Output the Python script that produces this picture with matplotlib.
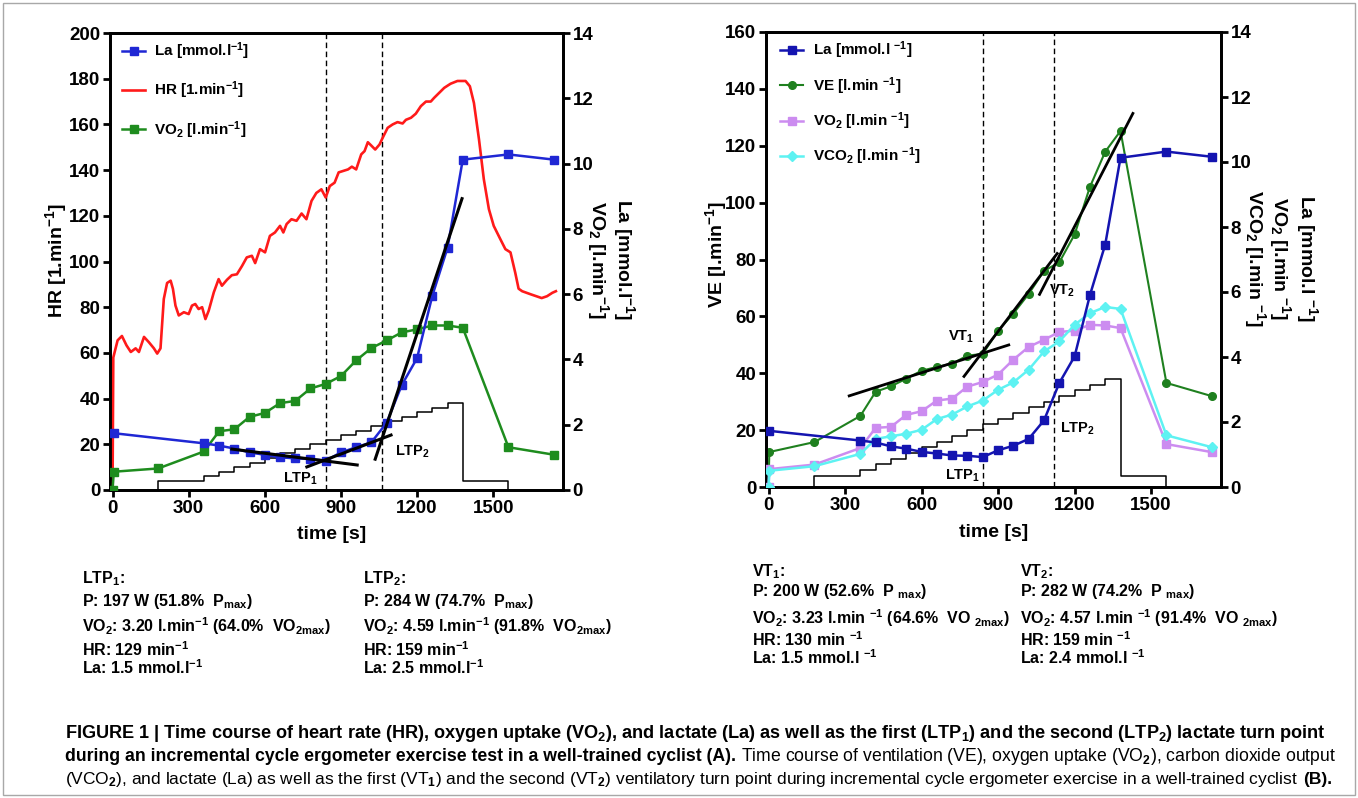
import matplotlib
matplotlib.use('Agg')
import matplotlib.pyplot as plt
from matplotlib import font_manager
from matplotlib.transforms import IdentityTransform
from matplotlib.patches import Rectangle

# ---------------- data ----------------
# heart rate trace (panel A)
hr_t = [0, 3, 20, 37, 55, 72, 91, 104, 124, 143, 163, 176, 189, 202, 215, 229, 238, 248, 261, 281,
        300, 313, 326, 339, 353, 366, 379, 399, 418, 431, 451, 470, 490, 510, 529, 549, 562, 581, 601, 620,
        640, 660, 673, 686, 705, 725, 745, 764, 784, 803, 823, 840, 856, 875, 891, 908, 928, 943, 960, 980,
        993, 1006, 1019, 1035, 1052, 1066, 1084, 1104, 1123, 1143, 1156, 1176, 1195, 1215, 1235, 1254, 1267, 1287, 1307, 1332,
        1359, 1391, 1408, 1424, 1444, 1463, 1483, 1502, 1528, 1548, 1568, 1587, 1600, 1614, 1649, 1691, 1712, 1733, 1747]
hr_v = [0, 58, 65.5, 67.4, 63.3, 60.4, 62, 60.4, 67, 64.7, 62, 59.7, 62, 83.6, 90.6, 91.6, 88, 80.7, 76.4, 77.8,
        77, 80.7, 81.4, 79.2, 80, 74.8, 78.5, 86.5, 92.3, 89.4, 92, 94, 94.4, 98, 101.8, 102.5, 99.3, 105.4, 104, 111.2,
        112.7, 115.6, 112.7, 116.4, 118.5, 117.8, 121, 118.5, 126.5, 130, 131.6, 128, 133, 134.5, 139, 139.6, 140.3, 141.5, 140.3, 146.9,
        148.3, 152.2, 150.8, 149, 151.2, 154.5, 158.5, 160, 161, 160.4, 162, 162.9, 164.7, 168, 170, 170, 171.6, 173.8, 176, 177.8,
        179, 179, 176.7, 169.4, 153.4, 136, 122.9, 115.6, 109.8, 105.4, 104, 95, 88.1, 87, 85.6, 84, 84.8, 86.3, 87]

# lactate (panel A)
la_t = [5, 360, 420, 480, 540, 600, 660, 720, 780, 840, 900, 960, 1020, 1080, 1140, 1200, 1260, 1320, 1380, 1560, 1740]
la_v = [1.74, 1.43, 1.36, 1.27, 1.15, 1.08, 1.00, 0.97, 0.95, 0.90, 1.15, 1.31, 1.46, 2.06, 3.22, 4.04, 5.95, 7.42, 10.12, 10.28, 10.12]

# oxygen uptake (panel A)
vo2_t = [0, 5, 180, 360, 420, 480, 540, 600, 660, 720, 780, 840, 900, 960, 1020, 1080, 1140, 1200, 1260, 1320, 1380, 1560, 1740]
vo2_v = [0, 0.56, 0.66, 1.18, 1.80, 1.86, 2.24, 2.36, 2.66, 2.73, 3.11, 3.25, 3.49, 3.97, 4.35, 4.58, 4.83, 4.92, 5.04, 5.04, 4.97, 1.31, 1.08]

# power protocol (W), drawn as W/10
pw_t = [180, 180, 360, 420, 480, 540, 600, 660, 720, 780, 840, 900, 960, 1020, 1080, 1140, 1200, 1260, 1320, 1380, 1560]
pw_w = [0, 40, 60, 80, 100, 120, 140, 160, 180, 200, 220, 240, 260, 280, 300, 320, 340, 360, 380, 40, 0]

# lactate turn point regression lines (panel A, mmol/l)
ltp_fit1_t = [464, 970]
ltp_fit1_v = [1.26, 0.76]
ltp_fit2_t = [760, 1103]
ltp_fit2_v = [0.69, 1.70]
ltp_fit3_t = [1033, 1379]
ltp_fit3_v = [0.90, 8.97]
ltp_lines_A = [840, 1063]

# panel B
gas_t = [0, 3, 180, 360, 420, 480, 540, 600, 660, 720, 780, 840, 900, 960, 1020, 1080, 1140, 1200, 1260, 1320, 1380, 1560, 1740]
ve_v = [0, 12.3, 15.8, 25.0, 33.5, 35.4, 38.1, 40.9, 42.2, 43.4, 46.2, 46.8, 55.0, 61.0, 67.9, 76.0, 79.0, 88.8, 105.5, 117.9, 125.2, 36.6, 31.9]
vo2b_v = [0, 0.55, 0.69, 1.20, 1.82, 1.85, 2.22, 2.33, 2.66, 2.72, 3.09, 3.23, 3.46, 3.92, 4.31, 4.53, 4.77, 4.81, 4.99, 4.97, 4.89, 1.32, 1.07]
vco2_v = [0, 0.50, 0.64, 1.02, 1.48, 1.56, 1.64, 1.76, 2.09, 2.23, 2.48, 2.66, 2.99, 3.22, 3.61, 4.17, 4.48, 4.99, 5.35, 5.54, 5.48, 1.59, 1.22]
lab_t = [0, 360, 420, 480, 540, 600, 660, 720, 780, 840, 900, 960, 1020, 1080, 1140, 1200, 1260, 1320, 1380, 1560, 1740]
lab_v = [1.73, 1.43, 1.37, 1.25, 1.18, 1.08, 1.03, 0.97, 0.96, 0.92, 1.13, 1.27, 1.48, 2.05, 3.20, 4.02, 5.90, 7.46, 10.13, 10.32, 10.16]

vt_fit1_t = [311, 947]
vt_fit1_v = [31.9, 50.1]
vt_fit2_t = [763, 1135]
vt_fit2_v = [38.5, 82.5]
vt_fit3_t = [1060, 1431]
vt_fit3_v = [67.3, 131.8]
vt_lines_B = [840, 1118]

x_ticks = [0, 300, 600, 900, 1200, 1500]

# ---------------- style ----------------
W, H = 1358, 798
plt.rcParams['font.family'] = ['Liberation Sans', 'DejaVu Sans']
plt.rcParams['font.weight'] = 'bold'
plt.rcParams['mathtext.fontset'] = 'custom'
plt.rcParams['mathtext.rm'] = 'Liberation Sans'
plt.rcParams['mathtext.bf'] = 'Liberation Sans:bold'
plt.rcParams['mathtext.it'] = 'Liberation Sans:italic'
plt.rcParams['mathtext.default'] = 'bf'

C_RED = '#ff1a1a'
C_BLUE_A = '#1f27d4'
C_GREEN_A = '#1e8c1e'
C_BLUE_B = '#1414b0'
C_GREEN_B = '#1f801f'
C_LILAC = '#cc8cf0'
C_CYAN = '#5ef2f2'

fig = plt.figure(figsize=(W / 100, H / 100), dpi=100)
fig.patches.append(Rectangle((3 / W, 3 / H), (W - 6) / W, (H - 6) / H, transform=fig.transFigure,
                             fill=False, ec='#a8a8a8', lw=1.0))

axA = fig.add_axes([110 / W, 1 - 490 / H, 453 / W, 457 / H])
axB = fig.add_axes([766 / W, 1 - 487 / H, 455 / W, 455 / H])
axA2 = axA.twinx()
axB2 = axB.twinx()

TICK_FS = 13.5


def style(ax):
    for sp in ax.spines.values():
        sp.set_linewidth(2.0)
        sp.set_color('black')
    ax.tick_params(axis='both', direction='out', length=5, width=2, labelsize=TICK_FS, pad=2)


for a in (axA, axB, axA2, axB2):
    style(a)

axA.set_xlim(-10, 1775)
axB.set_xlim(-10, 1774)
for a in (axA, axB):
    a.set_xticks(x_ticks)

axA.set_ylim(0, 200)
axA.set_yticks(range(0, 201, 20))
axA2.set_ylim(0, 14)
axA2.set_yticks(range(0, 15, 2))
axB.set_ylim(0, 160)
axB.set_yticks(range(0, 161, 20))
axB2.set_ylim(0, 14)
axB2.set_yticks(range(0, 15, 2))

# ---------------- panel A ----------------
pw_A = [p / 10 for p in pw_w]
axA.plot(pw_t, pw_A, drawstyle='steps-post', color='black', lw=1.1, zorder=1)
for xv in ltp_lines_A:
    axA.axvline(xv, color='black', lw=1.0, ls=(0, (4, 2.5)), zorder=1)
l_hr, = axA.plot(hr_t, hr_v, color=C_RED, lw=1.9, label='HR [1.min$^{-1}$]', zorder=3)

l_vo2, = axA2.plot(vo2_t, vo2_v, color=C_GREEN_A, lw=1.8, marker='s', ms=6, mec=C_GREEN_A,
                   label='VO$_2$ [l.min$^{-1}$]', zorder=3)
l_la, = axA2.plot(la_t, la_v, color=C_BLUE_A, lw=1.8, marker='s', ms=6, mec=C_BLUE_A,
                  label='La [mmol.l$^{-1}$]', zorder=4)
for tt, vv in ((ltp_fit1_t, ltp_fit1_v), (ltp_fit2_t, ltp_fit2_v), (ltp_fit3_t, ltp_fit3_v)):
    axA2.plot(tt, vv, color='black', lw=2.2, solid_capstyle='butt', zorder=5)
axA2.text(740, 0.33, 'LTP$_1$', ha='center', va='center', fontsize=10.5)
axA2.text(1112, 1.18, 'LTP$_2$', ha='left', va='center', fontsize=10.5)

axA2.legend(handles=[l_la, l_hr, l_vo2], loc='upper left', bbox_to_anchor=(0.01, 1.0), frameon=False,
            fontsize=11, handlelength=1.5, handletextpad=0.6, labelspacing=1.15, borderaxespad=0.2,
            borderpad=0.3)

axA.text(-0.118, 0.502, 'HR [1.min$^{-1}$]', transform=axA.transAxes, rotation=90,
         ha='center', va='center', fontsize=14)
axA.text(0.49, -0.098, 'time [s]', transform=axA.transAxes, ha='center', va='center', fontsize=14)
axA2.text(1.134, 0.504, 'La [mmol.l$^{-1}$]', transform=axA2.transAxes, rotation=270,
          ha='center', va='center', fontsize=14)
axA2.text(1.077, 0.504, 'VO$_2$ [l.min$^{-1}$]', transform=axA2.transAxes, rotation=270,
          ha='center', va='center', fontsize=14)

# ---------------- panel B ----------------
axB.plot(pw_t, pw_A, drawstyle='steps-post', color='black', lw=1.1, zorder=1)
for xv in vt_lines_B:
    axB.axvline(xv, color='black', lw=1.0, ls=(0, (4, 2.5)), zorder=1)
l_ve, = axB.plot(gas_t, ve_v, color=C_GREEN_B, lw=1.5, marker='o', ms=5.5, mec=C_GREEN_B,
                 label='VE [l.min $^{-1}$]', zorder=3)
for tt, vv in ((vt_fit1_t, vt_fit1_v), (vt_fit2_t, vt_fit2_v), (vt_fit3_t, vt_fit3_v)):
    axB.plot(tt, vv, color='black', lw=2.0, solid_capstyle='butt', zorder=4)
axB.text(755, 52.8, 'VT$_1$', ha='center', va='center', fontsize=10.5)
axB.text(1100, 68.9, 'VT$_2$', ha='left', va='center', fontsize=10.5)
axB.text(760, 4.0, 'LTP$_1$', ha='center', va='center', fontsize=10.5)
axB.text(1143, 20.4, 'LTP$_2$', ha='left', va='center', fontsize=10.5)

l_vo2b, = axB2.plot(gas_t, vo2b_v, color=C_LILAC, lw=1.8, marker='s', ms=6, mec=C_LILAC,
                    label='VO$_2$ [l.min $^{-1}$]', zorder=3)
l_vco2, = axB2.plot(gas_t, vco2_v, color=C_CYAN, lw=1.8, marker='D', ms=5.5, mec=C_CYAN,
                    label='VCO$_2$ [l.min $^{-1}$]', zorder=3)
l_lab, = axB2.plot(lab_t, lab_v, color=C_BLUE_B, lw=1.8, marker='s', ms=6, mec=C_BLUE_B,
                   label='La [mmol.l $^{-1}$]', zorder=4)

axB2.legend(handles=[l_lab, l_ve, l_vo2b, l_vco2], loc='upper left', bbox_to_anchor=(0.015, 1.0),
            frameon=False, fontsize=11, handlelength=1.5, handletextpad=0.6, labelspacing=0.9,
            borderaxespad=0.2, borderpad=0.3)

axB.text(-0.11, 0.51, 'VE [l.min$^{-1}$]', transform=axB.transAxes, rotation=90,
         ha='center', va='center', fontsize=14)
axB.text(0.5, -0.099, 'time [s]', transform=axB.transAxes, ha='center', va='center', fontsize=14)
axB2.text(1.19, 0.503, 'La [mmol.l $^{-1}$]', transform=axB2.transAxes, rotation=270,
          ha='center', va='center', fontsize=14)
axB2.text(1.13, 0.503, 'VO$_2$ [l.min $^{-1}$]', transform=axB2.transAxes, rotation=270,
          ha='center', va='center', fontsize=14)
axB2.text(1.074, 0.503, 'VCO$_2$ [l.min $^{-1}$]', transform=axB2.transAxes, rotation=270,
          ha='center', va='center', fontsize=14)

# ---------------- threshold summaries ----------------
ltp1_lines = ['LTP$_1$:', 'P: 197 W (51.8%  P$_{max}$)', 'VO$_2$: 3.20 l.min$^{-1}$ (64.0%  VO$_{2max}$)',
              'HR: 129 min$^{-1}$', 'La: 1.5 mmol.l$^{-1}$']
ltp2_lines = ['LTP$_2$:', 'P: 284 W (74.7%  P$_{max}$)', 'VO$_2$: 4.59 l.min$^{-1}$ (91.8%  VO$_{2max}$)',
              'HR: 159 min$^{-1}$', 'La: 2.5 mmol.l$^{-1}$']
vt1_lines = ['VT$_1$:', 'P: 200 W (52.6%  P $_{max}$)', 'VO$_2$: 3.23 l.min $^{-1}$ (64.6%  VO $_{2max}$)',
             'HR: 130 min $^{-1}$', 'La: 1.5 mmol.l $^{-1}$']
vt2_lines = ['VT$_2$:', 'P: 282 W (74.2%  P $_{max}$)', 'VO$_2$: 4.57 l.min $^{-1}$ (91.4%  VO $_{2max}$)',
             'HR: 159 min $^{-1}$', 'La: 2.4 mmol.l $^{-1}$']

ys_A = [578, 601, 627, 651, 669]
ys_B = [571, 591, 619, 641, 659]


def block(x_px, ys, lines):
    for yy, s in zip(ys, lines):
        fig.text(x_px, H - (yy + 5), s, transform=IdentityTransform(), ha='left', va='baseline',
                 fontsize=11.5)


block(82, ys_A, ltp1_lines)
block(363, ys_A, ltp2_lines)
block(752, ys_B, vt1_lines)
block(1020, ys_B, vt2_lines)

# ---------------- caption ----------------
names = {f.name for f in font_manager.fontManager.ttflist}
cap_family = ['Liberation Sans Narrow', 'Liberation Sans'] if 'Liberation Sans Narrow' in names else ['Liberation Sans']

cap1 = [('FIGURE 1 | Time course of heart rate (HR), oxygen uptake (VO$_2$), and lactate (La) as well as the '
         'first (LTP$_1$) and the second (LTP$_2$) lactate turn point', 'bold')]
cap2 = [('during an incremental cycle ergometer exercise test in a well-trained cyclist (A).', 'bold'),
        ('Time course of ventilation (VE), oxygen uptake (VO$_\\mathrm{2}$), carbon dioxide output', 'normal')]
cap3 = [('(VCO$_\\mathrm{2}$), and lactate (La) as well as the first (VT$_\\mathrm{1}$) and the second '
         '(VT$_\\mathrm{2}$) ventilatory turn point during incremental cycle ergometer exercise in a '
         'well-trained cyclist', 'normal'),
        ('(B).', 'bold')]

renderer = fig.canvas.get_renderer()


def draw_runs(y_base, runs_list, fs, x0=65):
    sp = fig.text(0, 0, 'a a', transform=IdentityTransform(), fontsize=fs, family=cap_family)
    sp2 = fig.text(0, 0, 'aa', transform=IdentityTransform(), fontsize=fs, family=cap_family)
    space_w = sp.get_window_extent(renderer).width - sp2.get_window_extent(renderer).width
    sp.remove()
    sp2.remove()
    x = x0
    made = []
    for s, wgt in runs_list:
        t = fig.text(x, H - y_base, s, transform=IdentityTransform(), fontsize=fs, fontweight=wgt,
                     family=cap_family, ha='left', va='baseline')
        made.append(t)
        x = t.get_window_extent(renderer).x1 + space_w
    return made, x - space_w


def fitted_runs(y_base, runs_list, x_end, x0=65):
    made, end = draw_runs(y_base, runs_list, 10, x0)
    for t in made:
        t.remove()
    fs = 10 * (x_end - x0) / (end - x0)
    draw_runs(y_base, runs_list, fs, x0)


fitted_runs(738, cap1, 1327)
fitted_runs(761, cap2, 1333)
fitted_runs(784, cap3, 1333)

fig.savefig('out.png', dpi=100)
